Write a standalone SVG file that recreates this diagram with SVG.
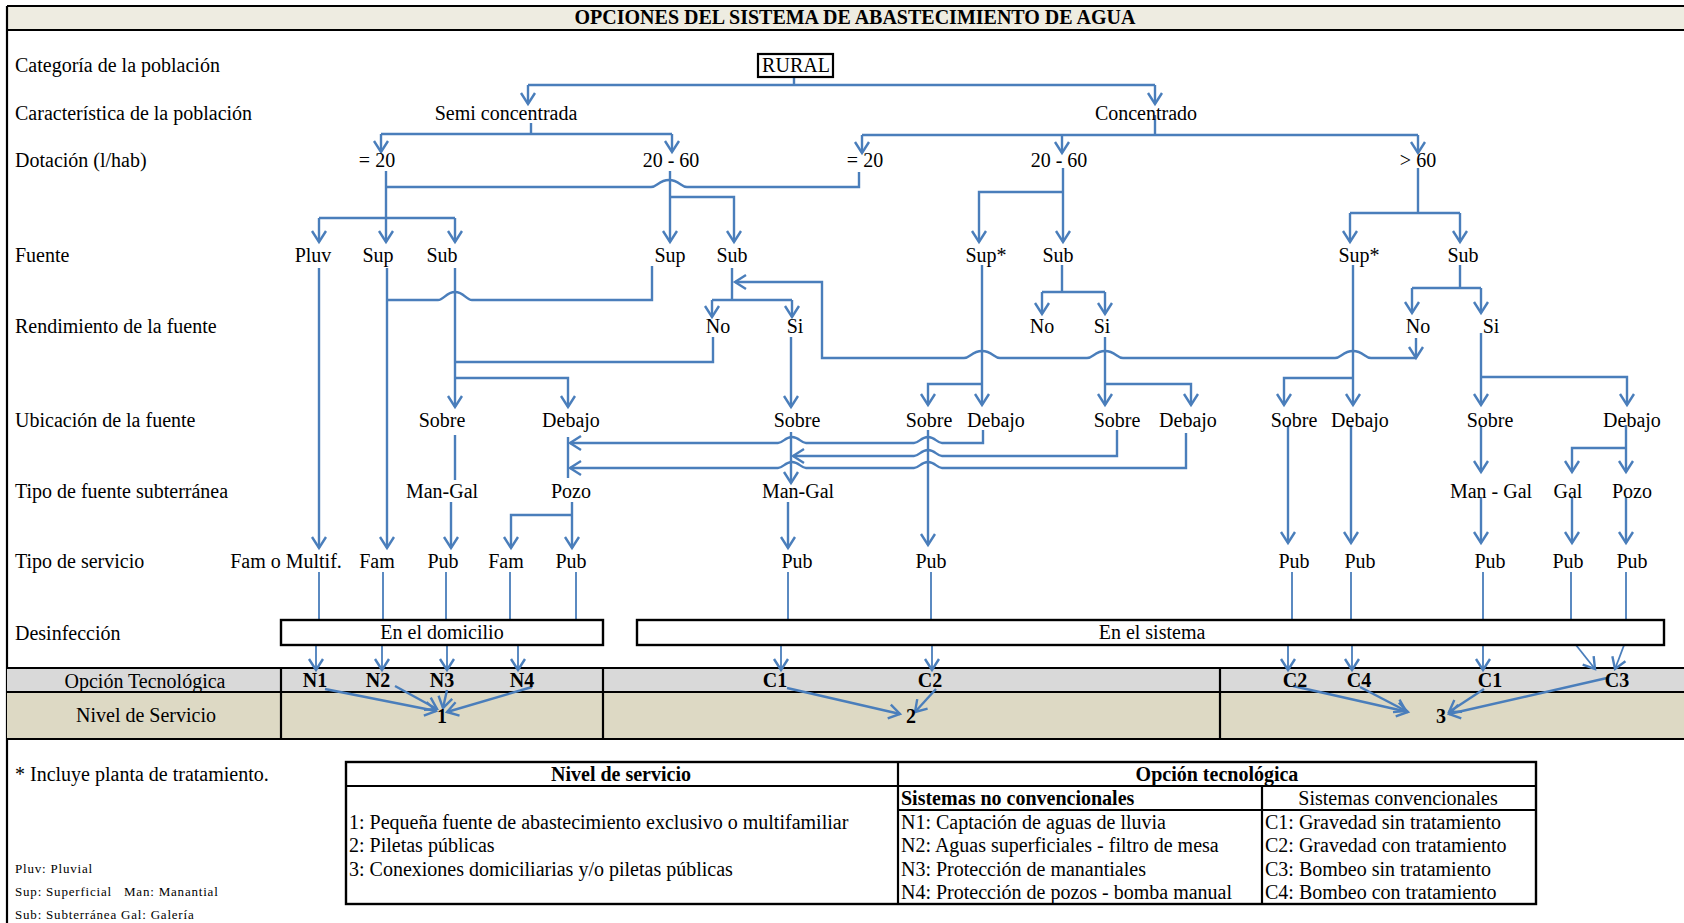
<svg xmlns="http://www.w3.org/2000/svg" width="1684" height="923" viewBox="0 0 1684 923">
<style>
.t{font-family:"Liberation Serif","Times New Roman",serif;font-size:20px;fill:#000}
.c{text-anchor:middle}
.b{font-weight:bold}
.s{font-size:13px;letter-spacing:0.8px}
.ln{fill:none;stroke:#4A7EBB;stroke-width:2.4}
.ar{marker-end:url(#ah)}
.th{stroke-width:1.8}
.bk{fill:none;stroke:#000;stroke-width:2.2}
</style>
<defs>
<marker id="ah" viewBox="0 0 12 14" refX="11" refY="7" markerWidth="12" markerHeight="14" markerUnits="userSpaceOnUse" orient="auto" style="overflow:visible"><path d="M0,0 L11,7 L0,14" fill="none" stroke="#4A7EBB" stroke-width="2.4"/></marker>
</defs>
<rect x="0" y="0" width="1684" height="923" fill="#fff"/>
<!-- title band -->
<rect x="7" y="6" width="1677" height="24" fill="#EEECE1"/>
<path class="bk" d="M7,6 H1684 M7,30 H1684" stroke-width="3"/>
<path class="bk" d="M7,6 V923"/>
<text class="t c b" x="855" y="24">OPCIONES DEL SISTEMA DE ABASTECIMIENTO DE AGUA</text>
<!-- bands -->
<rect x="7" y="668" width="1677" height="24" fill="#D9D9D9"/>
<rect x="7" y="692" width="1677" height="47" fill="#DDD9C4"/>
<path class="bk" d="M7,668 H1684 M7,692 H1684 M7,739 H1684 M281,668 V739 M603,668 V739 M1220,668 V739"/>
<!-- row labels -->
<g id="row-labels">
<text class="t" x="15" y="72">Categoría de la población</text>
<text class="t" x="15" y="120">Característica de la población</text>
<text class="t" x="15" y="167">Dotación (l/hab)</text>
<text class="t" x="15" y="262">Fuente</text>
<text class="t" x="15" y="333">Rendimiento de la fuente</text>
<text class="t" x="15" y="427">Ubicación de la fuente</text>
<text class="t" x="15" y="498">Tipo de fuente subterránea</text>
<text class="t" x="15" y="568">Tipo de servicio</text>
<text class="t" x="15" y="640">Desinfección</text>
<text class="t c" x="145" y="688">Opción Tecnológica</text>
<text class="t c" x="146" y="722">Nivel de Servicio</text>
</g>
<!-- connectors -->
<g id="connectors">
<path class="ln" d="M794,77 V85 M528,85 H1155"/>
<path class="ln ar" d="M528,85 V104"/><path class="ln ar" d="M1155,85 V104"/>
<path class="ln" d="M531,123 V134 M381,134 H672"/>
<path class="ln ar" d="M381,134 V152"/><path class="ln ar" d="M672,134 V152"/>
<path class="ln" d="M1155,115 V135 M862,135 H1418"/>
<path class="ln ar" d="M862,135 V153"/><path class="ln ar" d="M1062,135 V153"/><path class="ln ar" d="M1418,135 V153"/>
<!-- semi =20 -->
<path class="ln ar" d="M386,171 V242"/>
<path class="ln" d="M319,218 H455"/>
<path class="ln ar" d="M319,218 V242"/><path class="ln ar" d="M455,218 V242"/>
<path class="ln" d="M386,187 H651 C657,187 659,180 669,180 C679,180 681,187 687,187 H859 V172"/>
<!-- semi 20-60 -->
<path class="ln ar" d="M670,171 V242"/>
<path class="ln ar" d="M670,197 H734 V242"/>
<!-- conc 20-60 -->
<path class="ln ar" d="M1063,168 V242"/>
<path class="ln ar" d="M1063,192 H979 V242"/>
<!-- >60 -->
<path class="ln" d="M1418,168 V213 M1350,213 H1460"/>
<path class="ln ar" d="M1350,213 V242"/><path class="ln ar" d="M1460,213 V242"/>
<!-- fuente level -->
<path class="ln ar" d="M319,268 V548"/>
<path class="ln ar" d="M387,268 V548"/>
<path class="ln" d="M652,266 V300 H472 C466,300 464,292 455,292 C446,292 444,300 438,300 H387"/>
<path class="ln ar" d="M455,268 V407"/>
<path class="ln ar" d="M455,378 H568 V407"/>
<path class="ln" d="M713,337 V362 H455"/>
<path class="ln" d="M732,268 V300 M712,300 H792"/>
<path class="ln ar" d="M712,300 V317"/><path class="ln ar" d="M792,300 V317"/>
<path class="ln ar" d="M791,337 V407"/>
<path class="ln ar" d="M1416,338 V358"/>
<path class="ln ar" d="M1416,358 H1371 C1365,358 1363,351 1353,351 C1343,351 1341,358 1335,358 H1123 C1117,358 1115,351 1105,351 C1095,351 1093,358 1087,358 H1000 C994,358 992,351 982,351 C972,351 970,358 964,358 H822 V282 H735"/>
<path class="ln ar" d="M982,265 V405"/>
<path class="ln ar" d="M982,384 H928 V405"/>
<path class="ln" d="M1062,265 V292 M1042,292 H1105"/>
<path class="ln ar" d="M1042,292 V314"/><path class="ln ar" d="M1105,292 V314"/>
<path class="ln ar" d="M1105,337 V405"/>
<path class="ln ar" d="M1105,384 H1191 V405"/>
<path class="ln ar" d="M1353,265 V405"/>
<path class="ln ar" d="M1353,378 H1284 V405"/>
<path class="ln" d="M1460,265 V288 M1412,288 H1481"/>
<path class="ln ar" d="M1412,288 V313"/><path class="ln ar" d="M1481,288 V313"/>
<path class="ln ar" d="M1481,333 V405"/>
<path class="ln ar" d="M1481,377 H1627 V405"/>
<!-- ubicacion level -->
<path class="ln" d="M455,435 V480"/>
<path class="ln ar" d="M451,502 V548"/>
<path class="ln" d="M568,437 V478"/>
<path class="ln ar" d="M572,502 V548"/>
<path class="ln ar" d="M572,515 H511 V548"/>
<path class="ln ar" d="M791,432 V483"/>
<path class="ln ar" d="M788,502 V548"/>
<path class="ln ar" d="M928,430 V545"/>
<path class="ln ar" d="M983,430 V443 H942 C937,443 935,437 928,437 C921,437 919,443 914,443 H806 C801,443 799,437 792,437 C785,437 783,443 778,443 H570"/>
<path class="ln ar" d="M1117,430 V456 H942 C937,456 935,450 928,450 C921,450 919,456 914,456 H793"/>
<path class="ln ar" d="M1186,433 V468 H942 C937,468 935,462 928,462 C921,462 919,468 914,468 H806 C801,468 799,462 792,462 C785,462 783,468 778,468 H570"/>
<path class="ln ar" d="M1288,425 V543"/>
<path class="ln ar" d="M1351,425 V543"/>
<path class="ln ar" d="M1481,425 V472"/>
<path class="ln ar" d="M1481,497 V543"/>
<path class="ln ar" d="M1626,425 V472"/>
<path class="ln ar" d="M1626,448 H1572 V472"/>
<path class="ln ar" d="M1572,497 V543"/>
<path class="ln ar" d="M1626,497 V543"/>
<!-- servicio to box -->
<path class="ln th" d="M319,572 V620 M383,572 V620 M446,572 V620 M510,572 V620 M576,572 V620 M788,572 V620 M931,572 V620 M1292,572 V620 M1351,572 V620 M1483,572 V620 M1571,572 V620 M1626,572 V620"/>
<!-- box to opcion -->
<path class="ln th ar" d="M316,645 V670"/><path class="ln th ar" d="M382,645 V670"/><path class="ln th ar" d="M447,645 V670"/><path class="ln th ar" d="M518,645 V670"/>
<path class="ln th ar" d="M781,645 V670"/><path class="ln th ar" d="M932,645 V670"/><path class="ln th ar" d="M1288,645 V670"/><path class="ln th ar" d="M1352,645 V670"/><path class="ln th ar" d="M1483,645 V670"/>
<path class="ln th ar" d="M1572,640 L1595,669"/><path class="ln th ar" d="M1626,640 L1615,669"/>
<!-- opcion to nivel -->
<path class="ln ar" d="M325,689 L436,711"/>
<path class="ln ar" d="M395,686 L437,709"/>
<path class="ln ar" d="M447,690 L443,708"/>
<path class="ln ar" d="M532,687 L447,712"/>
<path class="ln ar" d="M787,688 L900,714"/>
<path class="ln ar" d="M936,689 L915,712"/>
<path class="ln ar" d="M1293,686 L1408,712"/>
<path class="ln ar" d="M1360,687 L1406,711"/>
<path class="ln ar" d="M1484,689 L1449,712"/>
<path class="ln ar" d="M1607,678 L1449,714"/>
</g>
<!-- nodes -->
<g id="n-rural"><rect x="758" y="54" width="75" height="23" fill="#fff" stroke="#000" stroke-width="2.2"/><text class="t c" x="796" y="72">RURAL</text></g>
<g id="n-semi"><text class="t c" x="506" y="120">Semi concentrada</text></g>
<g id="n-conc"><text class="t c" x="1146" y="120">Concentrado</text></g>
<g id="n-d1"><text class="t c" x="377" y="167">= 20</text></g>
<g id="n-d2"><text class="t c" x="671" y="167">20 - 60</text></g>
<g id="n-d3"><text class="t c" x="865" y="167">= 20</text></g>
<g id="n-d4"><text class="t c" x="1059" y="167">20 - 60</text></g>
<g id="n-d5"><text class="t c" x="1418" y="167">&gt; 60</text></g>
<g id="n-f1"><text class="t c" x="313" y="262">Pluv</text></g>
<g id="n-f2"><text class="t c" x="378" y="262">Sup</text></g>
<g id="n-f3"><text class="t c" x="442" y="262">Sub</text></g>
<g id="n-f4"><text class="t c" x="670" y="262">Sup</text></g>
<g id="n-f5"><text class="t c" x="732" y="262">Sub</text></g>
<g id="n-f6"><text class="t c" x="986" y="262">Sup*</text></g>
<g id="n-f7"><text class="t c" x="1058" y="262">Sub</text></g>
<g id="n-f8"><text class="t c" x="1359" y="262">Sup*</text></g>
<g id="n-f9"><text class="t c" x="1463" y="262">Sub</text></g>
<g id="n-r1"><text class="t c" x="718" y="333">No</text></g>
<g id="n-r2"><text class="t c" x="795" y="333">Si</text></g>
<g id="n-r3"><text class="t c" x="1042" y="333">No</text></g>
<g id="n-r4"><text class="t c" x="1102" y="333">Si</text></g>
<g id="n-r5"><text class="t c" x="1418" y="333">No</text></g>
<g id="n-r6"><text class="t c" x="1491" y="333">Si</text></g>
<g id="n-u1"><text class="t c" x="442" y="427">Sobre</text></g>
<g id="n-u2"><text class="t c" x="571" y="427">Debajo</text></g>
<g id="n-u3"><text class="t c" x="797" y="427">Sobre</text></g>
<g id="n-u4"><text class="t c" x="929" y="427">Sobre</text></g>
<g id="n-u5"><text class="t c" x="996" y="427">Debajo</text></g>
<g id="n-u6"><text class="t c" x="1117" y="427">Sobre</text></g>
<g id="n-u7"><text class="t c" x="1188" y="427">Debajo</text></g>
<g id="n-u8"><text class="t c" x="1294" y="427">Sobre</text></g>
<g id="n-u9"><text class="t c" x="1360" y="427">Debajo</text></g>
<g id="n-u10"><text class="t c" x="1490" y="427">Sobre</text></g>
<g id="n-u11"><text class="t c" x="1632" y="427">Debajo</text></g>
<g id="n-s1"><text class="t c" x="442" y="498">Man-Gal</text></g>
<g id="n-s2"><text class="t c" x="571" y="498">Pozo</text></g>
<g id="n-s3"><text class="t c" x="798" y="498">Man-Gal</text></g>
<g id="n-s4"><text class="t c" x="1491" y="498">Man - Gal</text></g>
<g id="n-s5"><text class="t c" x="1568" y="498">Gal</text></g>
<g id="n-s6"><text class="t c" x="1632" y="498">Pozo</text></g>
<g id="n-t1"><text class="t c" x="286" y="568">Fam o Multif.</text></g>
<g id="n-t2"><text class="t c" x="377" y="568">Fam</text></g>
<g id="n-t3"><text class="t c" x="443" y="568">Pub</text></g>
<g id="n-t4"><text class="t c" x="506" y="568">Fam</text></g>
<g id="n-t5"><text class="t c" x="571" y="568">Pub</text></g>
<g id="n-t6"><text class="t c" x="797" y="568">Pub</text></g>
<g id="n-t7"><text class="t c" x="931" y="568">Pub</text></g>
<g id="n-t8"><text class="t c" x="1294" y="568">Pub</text></g>
<g id="n-t9"><text class="t c" x="1360" y="568">Pub</text></g>
<g id="n-t10"><text class="t c" x="1490" y="568">Pub</text></g>
<g id="n-t11"><text class="t c" x="1568" y="568">Pub</text></g>
<g id="n-t12"><text class="t c" x="1632" y="568">Pub</text></g>
<g id="n-dom"><rect x="281" y="620" width="322" height="25" fill="#fff" stroke="#000" stroke-width="2.4"/><text class="t c" x="442" y="639">En el domicilio</text></g>
<g id="n-sis"><rect x="637" y="620" width="1027" height="25" fill="#fff" stroke="#000" stroke-width="2.4"/><text class="t c" x="1152" y="639">En el sistema</text></g>
<g id="n-o1"><text class="t c b" x="315" y="687">N1</text></g>
<g id="n-o2"><text class="t c b" x="378" y="687">N2</text></g>
<g id="n-o3"><text class="t c b" x="442" y="687">N3</text></g>
<g id="n-o4"><text class="t c b" x="522" y="687">N4</text></g>
<g id="n-o5"><text class="t c b" x="775" y="687">C1</text></g>
<g id="n-o6"><text class="t c b" x="930" y="687">C2</text></g>
<g id="n-o7"><text class="t c b" x="1295" y="687">C2</text></g>
<g id="n-o8"><text class="t c b" x="1359" y="687">C4</text></g>
<g id="n-o9"><text class="t c b" x="1490" y="687">C1</text></g>
<g id="n-o10"><text class="t c b" x="1617" y="687">C3</text></g>
<g id="n-l1"><text class="t c b" x="442" y="723">1</text></g>
<g id="n-l2"><text class="t c b" x="911" y="723">2</text></g>
<g id="n-l3"><text class="t c b" x="1441" y="723">3</text></g>
<!-- legend -->
<g id="legend-notes">
<text class="t" x="15" y="781">* Incluye planta de tratamiento.</text>
<text class="t s" x="15" y="873">Pluv: Pluvial</text>
<text class="t s" x="15" y="896">Sup: Superficial</text>
<text class="t s" x="124" y="896">Man: Manantial</text>
<text class="t s" x="15" y="919">Sub: Subterránea</text>
<text class="t s" x="121" y="919">Gal: Galería</text>
</g>
<g id="legend-table">
<rect x="346" y="762" width="1190" height="142" fill="#fff" stroke="#000" stroke-width="2.4"/>
<path class="bk" d="M898,762 V904 M346,786 H1536 M898,810 H1536 M1262,786 V904"/>
<text class="t c b" x="621" y="781">Nivel de servicio</text>
<text class="t c b" x="1217" y="781">Opción tecnológica</text>
<text class="t b" x="901" y="805">Sistemas no convencionales</text>
<text class="t c" x="1398" y="805">Sistemas convencionales</text>
<text class="t" x="349" y="829">1: Pequeña fuente de abastecimiento exclusivo o multifamiliar</text>
<text class="t" x="349" y="852">2: Piletas públicas</text>
<text class="t" x="349" y="876">3: Conexiones domiciliarias y/o piletas públicas</text>
<text class="t" x="901" y="829">N1: Captación de aguas de lluvia</text>
<text class="t" x="901" y="852">N2: Aguas superficiales - filtro de mesa</text>
<text class="t" x="901" y="876">N3: Protección de manantiales</text>
<text class="t" x="901" y="899">N4: Protección de pozos - bomba manual</text>
<text class="t" x="1265" y="829">C1: Gravedad sin tratamiento</text>
<text class="t" x="1265" y="852">C2: Gravedad  con tratamiento</text>
<text class="t" x="1265" y="876">C3: Bombeo sin tratamiento</text>
<text class="t" x="1265" y="899">C4: Bombeo con tratamiento</text>
</g>
</svg>
